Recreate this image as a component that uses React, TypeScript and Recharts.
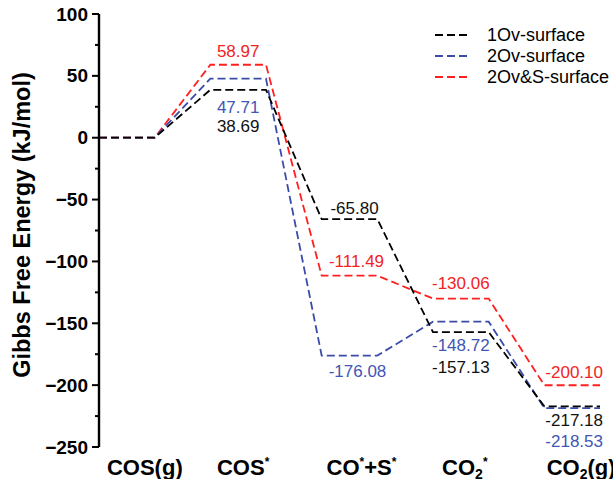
import { LineChart, Line, XAxis, YAxis } from "recharts";

const categories = ["COS(g)", "COS*", "CO*+S*", "CO2*", "CO2(g)"];
const ov1Surface = [0, 38.69, -65.8, -157.13, -217.18];
const ov2Surface = [0, 47.71, -176.08, -148.72, -218.53];
const ov2sSurface = [0, 58.97, -111.49, -130.06, -200.1];
const yTicks = [100, 75, 50, 25, 0, -25, -50, -75, -100, -125, -150, -175, -200, -225, -250];

const FONT = "'Liberation Sans', Arial, Helvetica, sans-serif";
const HALF = 0.25; // half width of each level, in category units

const series = [
  { key: "s2", name: "2Ov&S-surface", values: ov2sSurface, color: "#ff1f1f", text: "#f02424", dy: [0, -13, -14, -15, -13], dx: [0, 0, 7, 0, 2] },
  { key: "b2", name: "2Ov-surface", values: ov2Surface, color: "#3a4ca8", text: "#4256b4", dy: [0, 29, 16, 24, 33], dx: [0, 0, 8, 0, 2] },
  { key: "b1", name: "1Ov-surface", values: ov1Surface, color: "#000000", text: "#111111", dy: [0, 37, -11, 35, 14], dx: [0, 0, 5, 0, 2] },
];

// each state gives a flat level: start, middle (for the label), end
const data = categories.flatMap((_, i) =>
  [-HALF, 0, HALF].map((off) => ({
    x: i + off,
    b1: ov1Surface[i],
    b2: ov2Surface[i],
    s2: ov2sSurface[i],
  }))
);

const tickDx = [18, 5, 12, 4, 9];

function CategoryTick({ x, y, payload }: any) {
  const i = payload.value as number;
  const sup = { fontSize: 12 };
  const common = { x: x + tickDx[i], y: y + 28, textAnchor: "middle" as const, fontFamily: FONT, fontWeight: 700, fontSize: 22, fill: "#000" };
  if (i === 0) return <text {...common}>COS(g)</text>;
  if (i === 1)
    return (
      <text {...common}>
        COS<tspan dy={-9} {...sup}>*</tspan>
      </text>
    );
  if (i === 2)
    return (
      <text {...common}>
        CO<tspan dy={-9} {...sup}>*</tspan>
        <tspan dy={9}>+S</tspan>
        <tspan dy={-9} {...sup}>*</tspan>
      </text>
    );
  if (i === 3)
    return (
      <text {...common}>
        CO<tspan dy={4} fontSize={14}>2</tspan>
        <tspan dy={-13} {...sup}>*</tspan>
      </text>
    );
  return (
    <text {...common}>
      CO<tspan dy={4} fontSize={14}>2</tspan>
      <tspan dy={-4}>(g)</tspan>
    </text>
  );
}

function EnergyTick({ x, y, payload }: any) {
  const v = payload.value as number;
  const major = v % 50 === 0;
  return (
    <g>
      <line x1={x - (major ? 7 : 4)} x2={x} y1={y} y2={y} stroke="#000" strokeWidth={2} />
      {major && (
        <text x={x - 11} y={y} textAnchor="end" dominantBaseline="central" fontFamily={FONT} fontWeight={700} fontSize={19} fill="#000">
          {v < 0 ? "\u2212" + Math.abs(v) : v}
        </text>
      )}
    </g>
  );
}

function AxisTitle() {
  return (
    <text
      x={30}
      y={225}
      transform="rotate(-90, 30, 225)"
      textAnchor="middle"
      fontFamily={FONT}
      fontWeight={700}
      fontSize={23.5}
      fill="#000"
    >
      Gibbs Free Energy (kJ/mol)
    </text>
  );
}

function makeLabel(s: (typeof series)[number]) {
  return (props: any) => {
    const { x, y, index } = props;
    if (index % 3 !== 1) return null;
    const i = Math.floor(index / 3);
    if (i === 0) return null;
    return (
      <text
        key={s.key + index}
        x={x + s.dx[i]}
        y={y + s.dy[i]}
        textAnchor="middle"
        dominantBaseline="central"
        fontFamily={FONT}
        fontSize={17}
        fill={s.text}
      >
        {s.values[i].toFixed(2)}
      </text>
    );
  };
}

function LegendBox() {
  const rows = [series[2], series[1], series[0]];
  return (
    <svg width={183} height={70} style={{ position: "absolute", left: 430, top: 24 }}>
      {rows.map((s, k) => (
        <g key={s.key}>
          <line x1={5} x2={37} y1={11 + k * 21} y2={11 + k * 21} stroke={s.color} strokeWidth={1.8} strokeDasharray="8 4" />
          <text x={57} y={11 + k * 21} dominantBaseline="central" fontFamily={FONT} fontSize={18} fill="#000">
            {s.name}
          </text>
        </g>
      ))}
    </svg>
  );
}

export default function App() {
  return (
    <div style={{ position: "absolute", left: 0, top: 0, width: 613, height: 479, background: "#fff", overflow: "hidden" }}>
      <LineChart width={613} height={479} data={data} margin={{ top: 14, right: 13, left: 0, bottom: 0 }}>
        <XAxis
          dataKey="x"
          type="number"
          domain={[-HALF, categories.length - 1 + HALF]}
          ticks={[0, 1, 2, 3, 4]}
          axisLine={false}
          tickLine={false}
          tickSize={0}
          tickMargin={0}
          height={32}
          tick={<CategoryTick />}
          interval={0}
        />
        <YAxis
          type="number"
          domain={[-250, 100]}
          ticks={yTicks}
          width={99}
          axisLine={{ stroke: "#000", strokeWidth: 2.4 }}
          tickLine={false}
          tickSize={0}
          tickMargin={0}
          tick={<EnergyTick />}
          interval={0}
          label={<AxisTitle />}
        />
        {series.map((s) => (
          <Line
            key={s.key}
            dataKey={s.key}
            name={s.name}
            type="linear"
            stroke={s.color}
            strokeWidth={1.8}
            strokeDasharray="8 4"
            dot={false}
            activeDot={false}
            isAnimationActive={false}
            label={makeLabel(s)}
          />
        ))}
      </LineChart>
      <LegendBox />
    </div>
  );
}
